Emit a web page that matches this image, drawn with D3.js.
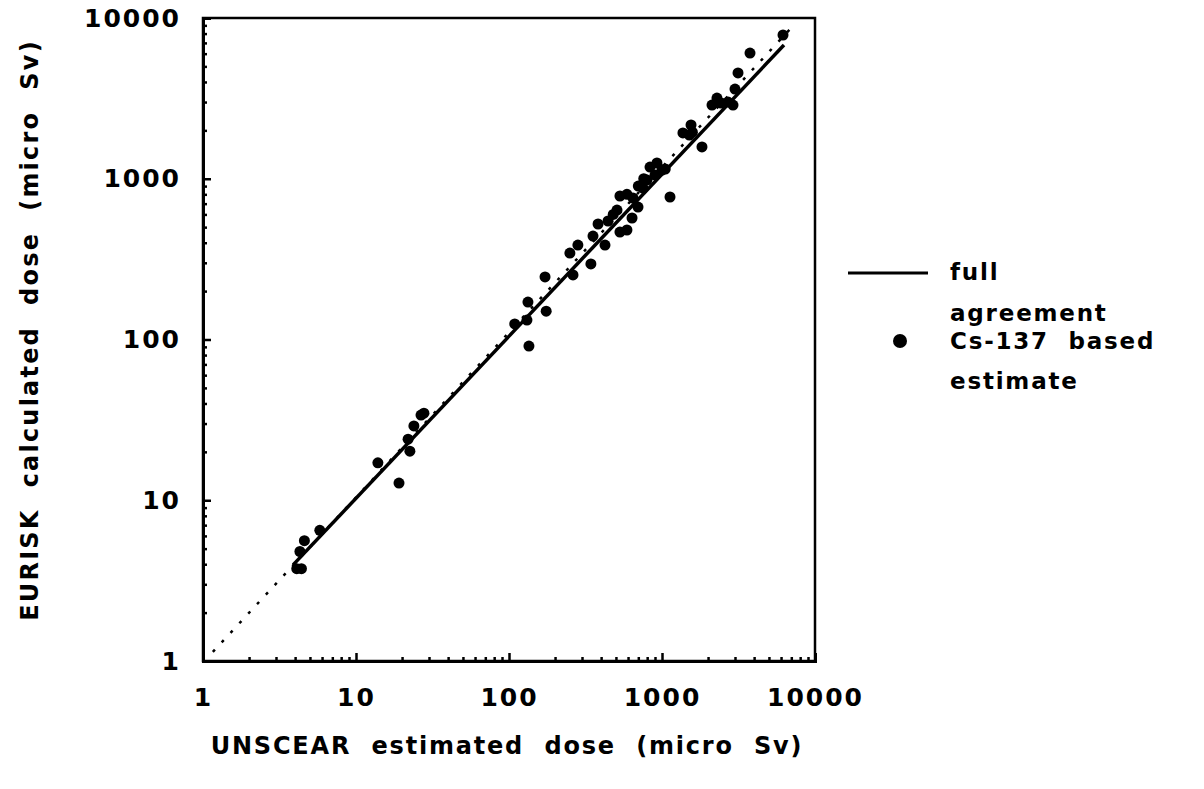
<!DOCTYPE html>
<html>
<head>
<meta charset="utf-8">
<script src="https://cdn.jsdelivr.net/npm/d3@7"></script>
<style>
  body { margin: 0; background: #fff; }
  text { font-family: "DejaVu Sans", "Liberation Sans", Arial, sans-serif; font-weight: bold; fill: #000; }
</style>
</head>
<body>
<div class="chart"></div>
<script>
// UNSCEAR estimate (x) vs EURISK calculated dose (y), micro Sv
var unscear = [4.1, 4.4, 4.3, 4.6, 5.8, 13.9, 19.1, 21.9, 22.5, 23.9, 26.6, 27.8,
  109, 131, 133, 135, 172, 175, 250, 262, 282, 343, 354, 382, 424, 444, 480, 508, 531,
  531, 590, 590, 637, 646, 697, 700, 751, 760, 798, 835, 900, 927, 1000, 1050, 1128,
  1370, 1510, 1548, 1580, 1825, 2122, 2287, 2430, 2700, 2911, 3000, 3140, 3760, 6180];
var eurisk = [3.75, 3.75, 4.8, 5.6, 6.5, 17.1, 12.8, 24.0, 20.2, 29.0, 33.9, 34.8,
  125, 132, 171, 91, 245, 150, 345, 252, 387, 295, 440, 523, 387, 546, 600, 639, 466,
  781, 480, 800, 570, 759, 667, 900, 875, 1000, 982, 1183, 1055, 1253, 1133, 1150, 770,
  1928, 1870, 2160, 1950, 1577, 2875, 3178, 2960, 3000, 2875, 3614, 4550, 6055, 7840];

// lines: solid "full agreement" and dotted reference
var solidX = [3.88, 6270];
var solidY = [3.96, 6790];
var dottedX = [1.16, 7080];
var dottedY = [1.14, 8790];

var majorTicks = [1, 10, 100, 1000, 10000];

(function() {

  var width = 1204, height = 789;
  var pLeft = 203, pRight = 815, pTop = 18, pBottom = 661;

  var svg = d3.select(".chart").append("svg")
    .attr("width", width)
    .attr("height", height);

  var x = d3.scaleLog().domain([1, 10000]).range([pLeft, pRight]);
  var y = d3.scaleLog().domain([1, 10000]).range([pBottom, pTop]);

  var minor = [];
  for (var d = 1; d < 10000; d *= 10) {
    for (var k = 2; k <= 9; k++) minor.push(d * k);
  }

  // frame
  svg.append("rect")
    .attr("x", pLeft).attr("y", pTop)
    .attr("width", pRight - pLeft).attr("height", pBottom - pTop)
    .attr("fill", "none").attr("stroke", "#000").attr("stroke-width", 2.5);

  // bottom axis
  svg.append("g").attr("transform", "translate(0," + pBottom + ")")
    .call(d3.axisBottom(x).tickValues(minor).tickSize(-4).tickFormat(""));
  var xMajor = svg.append("g").attr("transform", "translate(0," + pBottom + ")")
    .call(d3.axisBottom(x).tickValues(majorTicks).tickSize(-8).tickPadding(36)
      .tickFormat(d3.format("d")));

  // left axis
  svg.append("g").attr("transform", "translate(" + pLeft + ",0)")
    .call(d3.axisLeft(y).tickValues(minor).tickSize(-4).tickFormat(""));
  svg.append("g").attr("transform", "translate(" + pLeft + ",0)")
    .call(d3.axisLeft(y).tickValues(majorTicks).tickSize(-8).tickPadding(22)
      .tickFormat(d3.format("d")));

  svg.selectAll(".domain").attr("stroke", "#000").attr("stroke-width", 3);
  svg.selectAll(".tick line").attr("stroke", "#000").attr("stroke-width", 2.5);
  svg.selectAll(".tick text")
    .attr("font-size", "25px")
    .attr("letter-spacing", "2px")
    .attr("fill", "#000");
  xMajor.selectAll(".tick text").attr("dy", "0.35em");

  var line = d3.line()
    .x(function(d) { return x(d[0]); })
    .y(function(d) { return y(d[1]); });

  // dotted line
  svg.append("path")
    .datum(d3.zip(dottedX, dottedY))
    .attr("d", line)
    .attr("fill", "none")
    .attr("stroke", "#000")
    .attr("stroke-width", 2.5)
    .attr("stroke-dasharray", "3,10");

  // solid line
  svg.append("path")
    .datum(d3.zip(solidX, solidY))
    .attr("d", line)
    .attr("fill", "none")
    .attr("stroke", "#000")
    .attr("stroke-width", 3.5);

  // points
  svg.append("g").selectAll("circle")
    .data(d3.zip(unscear, eurisk))
    .enter()
    .append("circle")
    .attr("cx", function(d) { return x(d[0]); })
    .attr("cy", function(d) { return y(d[1]); })
    .attr("r", 5.5)
    .attr("fill", "#000");

  // axis titles
  svg.append("text")
    .text("UNSCEAR  estimated  dose  (micro  Sv)")
    .attr("x", 507).attr("y", 754)
    .attr("text-anchor", "middle")
    .attr("font-size", "24px")
    .attr("letter-spacing", "1.8px")
    .style("white-space", "pre");

  svg.append("text")
    .text("EURISK  calculated  dose  (micro  Sv)")
    .attr("transform", "translate(38,330) rotate(-90)")
    .attr("text-anchor", "middle")
    .attr("font-size", "24px")
    .attr("letter-spacing", "2.2px")
    .style("white-space", "pre");

  // legend
  var legend = svg.append("g");
  legend.append("line")
    .attr("x1", 848).attr("x2", 928)
    .attr("y1", 273).attr("y2", 273)
    .attr("stroke", "#000").attr("stroke-width", 3);
  legend.append("circle")
    .attr("cx", 900).attr("cy", 341).attr("r", 7).attr("fill", "#000");

  var legendLines = [["full", 280], ["agreement", 321], ["Cs-137  based", 349], ["estimate", 389]];
  legend.selectAll("text.lg")
    .data(legendLines)
    .enter()
    .append("text")
    .attr("class", "lg")
    .text(function(d) { return d[0]; })
    .attr("x", 950)
    .attr("y", function(d) { return d[1]; })
    .attr("font-size", "23px")
    .attr("letter-spacing", "1.8px")
    .style("white-space", "pre");

}());
</script>
</body>
</html>
